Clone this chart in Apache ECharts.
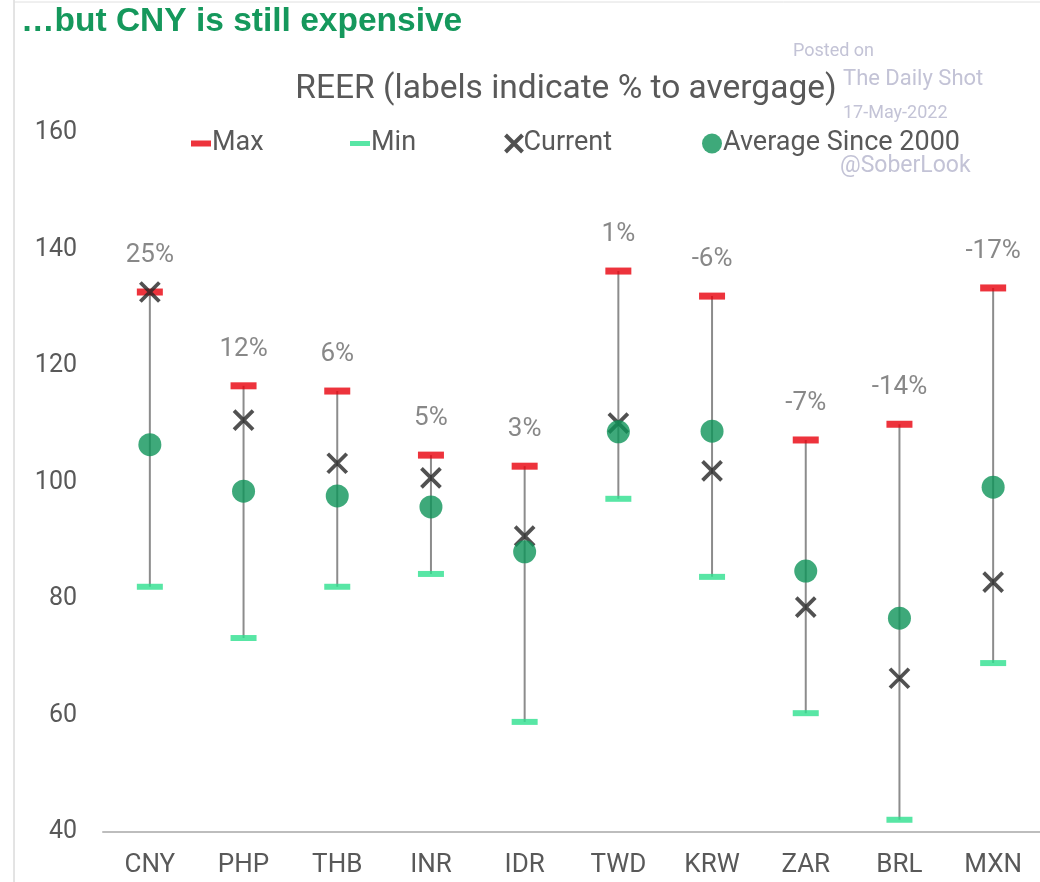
<!DOCTYPE html>
<html><head><meta charset="utf-8">
<script src="https://cdn.jsdelivr.net/npm/echarts@6/dist/echarts.min.js"></script>
<style>html,body{margin:0;padding:0;background:#fff}#c{width:1040px;height:882px}</style>
</head><body><div id="c"></div>
<script>
var categories = ['CNY','PHP','THB','INR','IDR','TWD','KRW','ZAR','BRL','MXN'];
var maxVals = [132.7, 116.6, 115.7, 104.7, 102.8, 136.3, 132.0, 107.3, 110.0, 133.4];
var minVals = [82.1, 73.3, 82.1, 84.3, 58.9, 97.2, 83.8, 60.4, 42.1, 69.0];
var currentVals = [132.7, 110.7, 103.3, 100.8, 90.8, 110.2, 102.0, 78.6, 66.4, 82.9];
var avgVals = [106.5, 98.5, 97.7, 95.8, 88.1, 108.7, 108.8, 84.8, 76.7, 99.2];
var pctLabels = ['25%','12%','6%','5%','3%','1%','-6%','-7%','-14%','-17%'];
var yTicks = [40, 60, 80, 100, 120, 140, 160];

var FONT = 'Roboto, "Noto Sans", sans-serif';
var crossPath = 'path://M0,0 L10,10 M10,0 L0,10';
var chart = echarts.init(document.getElementById('c'));
var rangeData = categories.map(function(c,i){ return [i, minVals[i], maxVals[i]]; });
var legendText = {fontFamily: FONT, fontSize: 27, color: '#595959', padding: [0,0,0,-4]};

chart.setOption({
  animation: false,
  backgroundColor: '#fff',
  textStyle: {fontFamily: FONT},
  title: [
    {text: '\u2026but CNY is still expensive', left: 16, top: 0,
     textStyle: {fontFamily: '"Liberation Sans", Arial, sans-serif', fontSize: 33.5, fontWeight: 'bold', color: '#15985C'}},
    {text: 'REER (labels indicate % to avergage)', left: 561, textAlign: 'center', top: 68,
     textStyle: {fontFamily: FONT, fontSize: 33.5, fontWeight: 'normal', color: '#595959'}}
  ],
  graphic: [
    {type: 'line', shape: {x1: 14, y1: 0, x2: 14, y2: 882}, style: {stroke: '#c8c8c8', lineWidth: 1}},
    {type: 'line', shape: {x1: 14, y1: 2, x2: 1040, y2: 2}, style: {stroke: '#e0e0e0', lineWidth: 1}},
    {type: 'text', left: 793, top: 42, style: {text: 'Posted on', fontFamily: FONT, fontSize: 18, fill: '#c3c3d6'}},
    {type: 'text', left: 843, top: 68, style: {text: 'The Daily Shot', fontFamily: FONT, fontSize: 22, fill: '#c3c3d6'}},
    {type: 'text', left: 843, top: 104, style: {text: '17-May-2022', fontFamily: FONT, fontSize: 18, fill: '#c3c3d6'}},
    {type: 'text', left: 840, top: 155, style: {text: '@SoberLook', fontFamily: FONT, fontSize: 23, fill: '#c3c3d6'}}
  ],
  legend: [
    {data: [{name: 'Max', icon: 'rect'}], left: 186, top: 125, itemWidth: 20, itemHeight: 6, textStyle: legendText},
    {data: [{name: 'Min', icon: 'rect'}], left: 345, top: 125, itemWidth: 20, itemHeight: 5, textStyle: legendText},
    {data: [{name: 'Current'}], left: 498, top: 125, itemWidth: 17, itemHeight: 17, textStyle: legendText,
     itemStyle: {color: 'none', borderColor: '#262626', borderWidth: 4}},
    {data: [{name: 'Average Since 2000', icon: 'circle'}], left: 697, top: 125, itemWidth: 20, itemHeight: 20, textStyle: legendText}
  ],
  grid: {left: 103, right: 0, top: 133, bottom: 50},
  xAxis: {
    type: 'category', data: categories,
    axisLine: {lineStyle: {color: '#bdbdbd', width: 2}},
    axisTick: {show: false},
    axisLabel: {fontFamily: FONT, fontSize: 26, color: '#595959', margin: 20}
  },
  yAxis: {
    type: 'value', min: yTicks[0], max: yTicks[yTicks.length-1], interval: 20,
    axisLine: {show: false}, axisTick: {show: false}, splitLine: {show: false},
    axisLabel: {fontFamily: FONT, fontSize: 25, color: '#595959', margin: 26}
  },
  series: [
    {
      type: 'custom', name: 'range', data: rangeData, z: 1,
      renderItem: function(params, api){
        var p1 = api.coord([api.value(0), api.value(1)]);
        var p2 = api.coord([api.value(0), api.value(2)]);
        return {type: 'line', shape: {x1: p1[0], y1: p1[1], x2: p2[0], y2: p2[1]},
                style: {stroke: '#8c8c8c', lineWidth: 2}};
      }
    },
    {
      type: 'scatter', name: 'Max', data: maxVals, z: 2,
      symbol: 'rect', symbolSize: [26, 7],
      itemStyle: {color: '#E8000B'},
      label: {show: true, position: 'top', distance: 20,
        formatter: function(p){ return pctLabels[p.dataIndex]; },
        fontFamily: FONT, fontSize: 26, color: '#6a6a6a'}
    },
    {
      type: 'scatter', name: 'Min', data: minVals, z: 2,
      symbol: 'rect', symbolSize: [26, 6],
      itemStyle: {color: '#2EE08F'}
    },
    {
      type: 'scatter', name: 'Current', data: currentVals, z: 3,
      symbol: crossPath, symbolSize: 19,
      itemStyle: {color: 'none', borderColor: '#262626', borderWidth: 3.8}
    },
    {
      type: 'scatter', name: 'Average Since 2000', data: avgVals, z: 4,
      symbol: 'circle', symbolSize: 23,
      itemStyle: {color: '#0E9459'}
    }
  ]
});
</script></body></html>
